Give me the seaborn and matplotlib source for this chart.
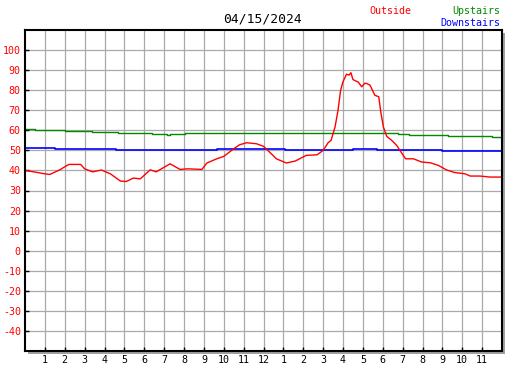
import matplotlib
matplotlib.use("Agg")
import matplotlib.pyplot as plt
from matplotlib.patches import Rectangle
import seaborn as sns

# Outside temperature (hour of day, value)
outside_hours = [0, 0.5, 1.0, 1.25, 1.75, 2.2, 2.8, 3.0, 3.4, 3.85, 4.3, 4.8, 5.1, 5.45,
                 5.8, 6.3, 6.6, 7.3, 7.8, 8.2, 8.9, 9.15, 9.65, 10.0, 10.5, 10.8, 11.15,
                 11.65, 12.0, 12.3, 12.65, 13.15, 13.6, 14.15, 14.7, 15.0, 15.25, 15.4,
                 15.6, 15.75, 15.88, 16.0, 16.18, 16.3, 16.4, 16.5, 16.77, 16.94, 17.1,
                 17.2, 17.36, 17.6, 17.8, 17.9, 18.03, 18.2, 18.45, 18.7, 18.95, 19.15,
                 19.55, 19.95, 20.4, 20.8, 21.2, 21.6, 22.15, 22.4, 22.9, 23.4, 24.0]
outside_vals = [40, 39.2, 38.3, 38, 40.3, 43, 43, 40.8, 39.3, 40.2, 38.3, 34.7, 34.5, 36.2,
                35.8, 40.3, 39.3, 43.3, 40.5, 40.8, 40.5, 43.7, 45.8, 47, 50.8, 52.8, 53.8,
                53.3, 52, 49.2, 45.8, 43.7, 44.7, 47.5, 47.8, 50, 53.8, 55,
                61.7, 70, 80, 84.2, 88, 87.5, 88.7, 85.3, 84, 81.7, 83.5,
                83.3, 82.5, 77.5, 76.7, 69.2, 61.7, 57, 55, 52.5, 48.7, 45.8,
                45.8, 44.2, 43.8, 42.5, 40.3, 39, 38.3, 37.2, 37.2, 36.7, 36.7]

# Upstairs (stepped)
up_hours = [0, 0.5, 2.0, 3.35, 4.7, 6.37, 7.13, 7.3, 8.05, 14.3, 18.77, 19.3, 21.3, 23.5, 24]
up_vals = [60.8, 60.3, 59.8, 59.3, 58.8, 58.3, 57.8, 58.3, 58.8, 58.5, 58.0, 57.8, 57.3, 56.8, 56.8]

# Downstairs (stepped)
down_hours = [0, 1.5, 4.6, 9.64, 13.1, 16.5, 17.7, 19.2, 19.5, 21.0, 24]
down_vals = [51.3, 50.8, 50.3, 50.8, 50.3, 50.8, 50.3, 50.0, 50.3, 49.8, 49.8]

x_ticks = list(range(1, 24))
x_labels = [str(h) for h in range(1, 13)] + [str(h) for h in range(1, 12)]
y_ticks = list(range(-40, 101, 10))

mono = "DejaVu Sans Mono"
fig = plt.figure(figsize=(5.27, 3.70), dpi=100)
l, b, w, h = 25 / 527, 19 / 370, 477 / 527, 321 / 370
ax = fig.add_axes([l, b, w, h])

# drop shadow behind the plot box
fig.patches.append(Rectangle((l + 3 / 527, b - 3 / 370), w, h, transform=fig.transFigure,
                             facecolor="#a0a0a0", edgecolor="none", zorder=-1))

sns.lineplot(x=up_hours, y=up_vals, color="#008800", lw=1.0, drawstyle="steps-post", ax=ax)
sns.lineplot(x=down_hours, y=down_vals, color="#0000ff", lw=1.2, drawstyle="steps-post", ax=ax)
sns.lineplot(x=outside_hours, y=outside_vals, color="#ff0000", lw=1.0, ax=ax)

ax.set_xlim(0, 24)
ax.set_ylim(-50, 110)
ax.set_xticks(x_ticks)
ax.set_xticklabels(x_labels, fontfamily=mono, fontsize=7.2)
ax.set_yticks(y_ticks)
ax.set_yticklabels([str(v) for v in y_ticks], fontfamily=mono, fontsize=7.2, color="#ff0000")
ax.set_xlabel("")
ax.set_ylabel("")
ax.grid(True, color="#aaaaaa", lw=0.9)
ax.set_axisbelow(True)
ax.tick_params(direction="in", length=3, width=1.0, color="black", pad=3)
for s in ax.spines.values():
    s.set_linewidth(1.5)
    s.set_color("black")

fig.text(0.499, 0.950, "04/15/2024", ha="center", va="center", fontfamily=mono, fontsize=9.4)
fig.text(0.740, 0.970, "Outside", ha="center", va="center", fontfamily=mono, fontsize=7.2,
         color="#ff0000")
fig.text(0.950, 0.970, "Upstairs", ha="right", va="center", fontfamily=mono, fontsize=7.2,
         color="#008800")
fig.text(0.950, 0.938, "Downstairs", ha="right", va="center", fontfamily=mono, fontsize=7.2,
         color="#0000ff")

fig.savefig("out.png", dpi=100)
